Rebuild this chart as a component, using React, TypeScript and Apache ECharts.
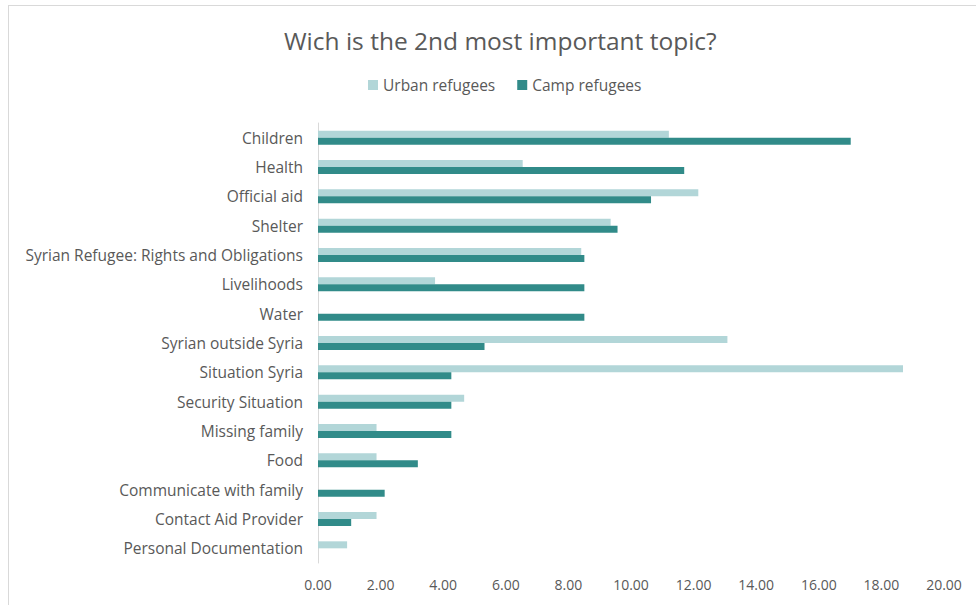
import React, { useEffect, useRef } from "react";
import * as echarts from "echarts";

const categories = [
  "Children",
  "Health",
  "Official aid",
  "Shelter",
  "Syrian Refugee: Rights and Obligations",
  "Livelihoods",
  "Water",
  "Syrian outside Syria",
  "Situation Syria",
  "Security Situation",
  "Missing family",
  "Food",
  "Communicate with family",
  "Contact Aid Provider",
  "Personal Documentation",
];

const urbanRefugees = [11.21, 6.54, 12.15, 9.35, 8.41, 3.74, 0, 13.08, 18.69, 4.67, 1.87, 1.87, 0, 1.87, 0.93];
const campRefugees = [17.02, 11.7, 10.64, 9.57, 8.51, 8.51, 8.51, 5.32, 4.26, 4.26, 4.26, 3.19, 2.13, 1.06, 0];

const seriesNames = ["Urban refugees", "Camp refugees"];
const titleText = "Wich is the 2nd most important topic?";

const FONT = "'Open Sans', 'Noto Sans', sans-serif";
const TEXT = "#595959";

export default function App() {
  const ref = useRef<HTMLDivElement>(null);

  useEffect(() => {
    if (!ref.current) return;
    const chart = echarts.init(ref.current, null, { renderer: "svg" });
    chart.setOption({
      animation: false,
      backgroundColor: "#ffffff",
      textStyle: { fontFamily: FONT },
      title: {
        text: titleText,
        left: 284,
        top: 28,
        padding: 0,
        textStyle: { color: TEXT, fontSize: 24.5, fontWeight: "normal", fontFamily: FONT },
      },
      legend: {
        left: 368,
        top: 77,
        padding: 0,
        itemWidth: 10,
        itemHeight: 10,
        itemGap: 22,
        icon: "rect",
        textStyle: { color: TEXT, fontSize: 15.5, fontFamily: FONT },
        data: seriesNames,
      },
      grid: { left: 318, right: 32, top: 123, bottom: 42, containLabel: false },
      xAxis: {
        type: "value",
        min: 0,
        max: 20,
        interval: 2,
        axisLine: { show: false },
        axisTick: { show: false },
        splitLine: { show: false },
        axisLabel: {
          color: TEXT,
          fontSize: 14,
          fontFamily: FONT,
          margin: 14,
          formatter: (v: number) => v.toFixed(2),
        },
      },
      yAxis: {
        type: "category",
        inverse: true,
        data: categories,
        axisLine: { show: true, lineStyle: { color: "#d9d9d9", width: 1 } },
        axisTick: { show: false },
        axisLabel: { color: TEXT, fontSize: 15.5, fontFamily: FONT, margin: 15 },
      },
      series: [
        {
          name: seriesNames[0],
          type: "bar",
          data: urbanRefugees,
          barWidth: 7,
          barGap: "0%",
          itemStyle: { color: "#b2d6d8" },
        },
        {
          name: seriesNames[1],
          type: "bar",
          data: campRefugees,
          barWidth: 7,
          barGap: "0%",
          itemStyle: { color: "#318b89" },
        },
      ],
    });
    return () => chart.dispose();
  }, []);

  return (
    <>
      <div
        ref={ref}
        style={{ position: "fixed", left: 0, top: 0, width: 976, height: 605 }}
      />
      <div
        style={{
          position: "fixed",
          left: 8,
          top: 5,
          width: 1000,
          height: 700,
          border: "1px solid #d9d9d9",
          pointerEvents: "none",
          boxSizing: "border-box",
        }}
      />
    </>
  );
}
